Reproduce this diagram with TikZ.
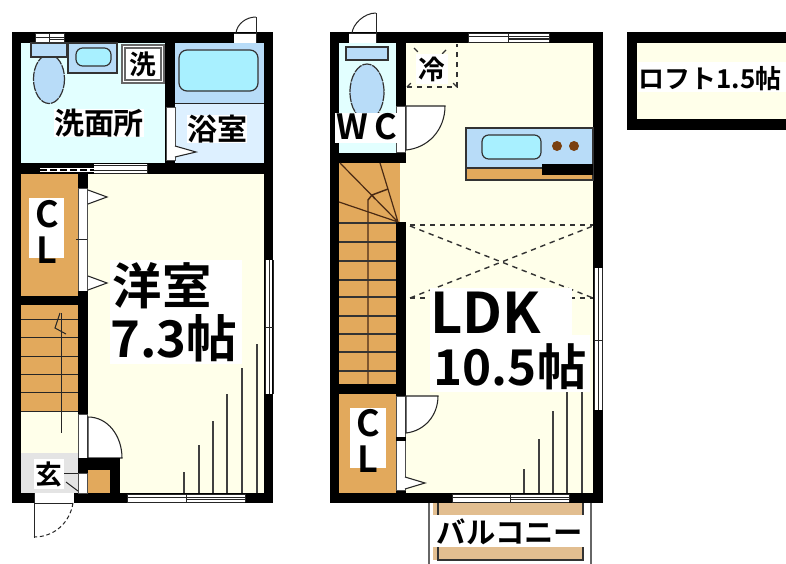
\documentclass[tikz,border=0pt]{standalone}
\usepackage{fontspec}
\newfontfamily\cjk{Noto Sans CJK JP}[BoldFont={Noto Sans CJK JP Bold}]
\definecolor{cream}{HTML}{FFFFEA}
\definecolor{wash}{HTML}{E2FFFF}
\definecolor{bathl}{HTML}{DDF0FF}
\definecolor{fixt}{HTML}{B8DCF8}
\definecolor{water}{HTML}{A8F0FF}
\definecolor{wood}{HTML}{E2A95C}
\definecolor{tan2}{HTML}{E2BE90}
\definecolor{hall}{HTML}{E4E4E4}
\definecolor{stairl}{HTML}{4A2A14}
\definecolor{burner}{HTML}{7A4010}
\tikzset{
  wall/.style={fill=black,draw=none},
  thin line/.style={draw=black!85,line width=0.75pt},
  fixture/.style={draw=black!80,line width=0.9pt},
  swing/.style={fill=white,draw=black!85,line width=0.8pt},
  dash line/.style={draw=black!80,line width=1.05pt,dash pattern=on 4pt off 3.5pt},
  sun/.style={draw=black!75,line width=0.85pt},
  label/.style={font=\cjk\bfseries,fill=white,inner sep=0pt,text=black,anchor=center},
  tag/.style={font=\cjk\bfseries,inner sep=0pt,text=black,anchor=center}
}
\newcommand{\hwin}[4]{% x1 x2 y1 y2
  \fill[white] (#1,#3) rectangle (#2,#4);
  \draw[thin line] (#1,#3) -- (#2,#3) (#1,#4) -- (#2,#4) (#1,{(#3+#4)/2-1}) -- (#2,{(#3+#4)/2-1}) (#1,#3) -- (#1,#4) (#2,#3) -- (#2,#4);
  \draw[thin line] ({(#1+#2)/2},#3) -- ({(#1+#2)/2},#4);
  \draw[draw=black!85,line width=1pt] ({(#1+#2)/2},{(#3+#4)/2+1.5}) -- (#2,{(#3+#4)/2+1.5});
}
\newcommand{\slit}[4]{\draw[fill=white,draw=black!70,line width=0.6pt] (#1,#2) rectangle (#3,#4);}
\begin{document}
\begin{tikzpicture}[x=0.75pt,y=-0.75pt]
\useasboundingbox (0,0) rectangle (786,564);
\fill[white] (0,0) rectangle (786,564);

%% ---------- LEFT UNIT ----------
\fill[wall] (12,32) rectangle (273,503);
\fill[wash] (21,43) rectangle (165,163);
\fill[fixt] (175,43) rectangle (264,103);
\fill[bathl] (175,103) rectangle (264,163);
\draw[thin line] (175,103.5) -- (264,103.5);
\fill[cream] (88,174) rectangle (264,493);
\fill[wood] (21,174) rectangle (78,296);
\fill[wood] (21,305) rectangle (78,411);
\fill[cream] (21,411) rectangle (78,453);
\fill[hall] (21,453) rectangle (78,493);
\fill[cream] (78,414) rectangle (88,458);
% fixtures washroom
\hwin{35}{64}{33}{43}
\draw[fixture,fill=fixt,dash pattern=on 7pt off 0.7pt] (49,79) ellipse (15.5 and 24.5);
\draw[fixture,fill=fixt] (31,43) rectangle (67,57);
\draw[fixture,fill=fixt] (68,43) rectangle (117,73);
\draw[fixture,fill=water,rounded corners=5pt] (76,48) rectangle (111,66);
\draw[draw=black!60,fill=white,line width=0.9pt] (122,45) rectangle (164,83);
\draw[draw=black!60,line width=0.9pt] (125,48) rectangle (161,80);
\node[label,font=\cjk\bfseries\fontsize{20}{20}\selectfont] (senn) at (143,64) {洗};
\draw[fixture,fill=water,rounded corners=6pt] (179,50) rectangle (258,91);
% walls inside bath
\fill[wall] (165,43) rectangle (175,107);
\slit{166}{107}{175}{160}
\draw[swing] (175,146) -- (196,152) -- (175,157);
% sliding door to washroom
\fill[white] (40,168) rectangle (94,172);
\draw[draw=black,line width=1.5pt,dash pattern=on 5pt off 2.5pt] (40,170) -- (94,170);
\fill[white] (94,164) rectangle (147,174);
\draw[thin line] (94,165) -- (147,165) (94,173.5) -- (147,173.5) (147,164) -- (147,174);
\draw[thin line] (94,170) -- (147,170);
% closet and door panels
\fill[wall] (78,174) rectangle (88,188);
\slit{78}{188}{87}{291}
\draw[thin line] (76,239) -- (87,239);
\fill[wall] (12,296) rectangle (88,305);
\fill[wall] (78,291) rectangle (88,414);
\draw[swing] (88,190) -- (107,197) -- (88,204);
\draw[swing] (88,276) -- (107,283) -- (88,290);
% stairs
\foreach \y in {319,337,356,374,392,411}
  \draw[thin line] (21,\y) -- (78,\y);
\draw[thin line] (61,313) -- (61,433);
\draw[thin line] (60,313) -- (55,328) -- (66,334);
% entry door + block
\slit{78}{414}{87}{458}
\draw[swing] (88,417) .. controls (108,417) and (122,436) .. (122,458) -- (88,458) -- cycle;
\fill[wall] (78,458) rectangle (120,503);
\fill[wood] (88,470) rectangle (110,493);
\slit{78}{473}{87}{493}
\draw[thin line] (64,473) -- (78,473);
\draw[thin line] (66,482) -- (78,491);
\fill[white] (34,459) rectangle (64,489);
\node[tag,font=\cjk\bfseries\fontsize{20}{20}\selectfont] (gen) at (49,474) {玄};
% entry opening
\fill[white] (34,493) rectangle (78,503);
\draw[thin line] (34,503) -- (73,503) (34,493) -- (34,538);
\draw[thin line,densely dashed] (73,503) .. controls (70,522) and (55,537) .. (34,537);
\fill[wall] (74,493) rectangle (78,503);
% top door of bath
\fill[white] (234,33) rectangle (256,43);
\draw[thin line] (256,17) -- (256,43) (234,33) -- (256,33);
\draw[thin line] (236,33) .. controls (237,24) and (246,17) .. (256,17);
% windows in outer wall
\fill[white] (265,260) rectangle (272,394);
\draw[thin line] (265,260) -- (265,394) (269,260) -- (269,394) (273,260) -- (273,394);
\draw[thin line] (265,327) -- (273,327);
\fill[wall] (264,394) rectangle (273,503);
\fill[wall] (245,493) rectangle (273,503);
\foreach \x/\t in {184/472,199/445,213/421,227/394,242/368,257/344}
  \draw[sun] (\x,\t) -- (\x,493);
\hwin{127}{245}{494}{502}

%% ---------- RIGHT UNIT ----------
\fill[wall] (330,32) rectangle (603,503);
\fill[cream] (406,43) rectangle (593,493);
\fill[cream] (396,163) rectangle (406,222);
\fill[wash] (339,43) rectangle (396,153);
\fill[wood] (339,163) rectangle (400,222);
\fill[wood] (339,222) rectangle (396,384);
\fill[wood] (339,394) rectangle (396,493);
\fill[wall] (396,222) rectangle (406,395);
% WC door top
\fill[white] (349,33) rectangle (376,43);
\draw[thin line] (376,13) -- (376,43) (349,33) -- (376,33);
\draw[thin line] (352,33) .. controls (353,24) and (364,13) .. (376,13);
% toilet
\draw[fixture,fill=fixt,dash pattern=on 7pt off 0.7pt] (367,92) ellipse (17 and 28);
\draw[fixture,fill=fixt] (346,47) rectangle (388,60);
% WC door
\slit{396}{106}{405}{152}
\draw[swing] (406,106) -- (445,106) .. controls (445,130) and (428,148) .. (406,150) -- cycle;
% fridge
\draw[dash line] (407,87) -- (457,87) -- (457,44);
\draw[dash line] (407,87) -- (413,81) (457,87) -- (451,81) (414,48) -- (420,54) (446,50) -- (440,56);
\fill[white] (416,54) rectangle (448,84);
\node[tag,font=\cjk\bfseries\fontsize{20}{20}\selectfont] (rei) at (432,69) {冷};
% window top
\hwin{468}{549}{33}{42}
% kitchen
\draw[fixture,fill=fixt] (466,128) rectangle (593,168);
\draw[fixture,fill=wood] (466,168) rectangle (593,180);
\fill[wall] (542,164) rectangle (593,175);
\draw[fixture,fill=water,rounded corners=5pt] (482,135) rectangle (541,159);
\fill[burner] (557,146) circle (5);
\fill[burner] (574,146) circle (5);
% stairs winder
\draw[stairl,line width=0.9pt] (340,163) -- (398,222) (380,163) -- (398,222) (339,202) -- (398,222);
\draw[stairl,line width=1.1pt] (368,384) -- (368,200) -- (372,195) -- (388,189) (372,195) -- (375,199);
\foreach \y in {223,242,261,280,297,316,334,352,371}
  \draw[black!80,line width=0.9pt] (339,\y) -- (396,\y);
% void
\draw[dash line] (410,225) -- (593,225);
\draw[dash line] (410,298) -- (593,298);
\draw[dash line] (410,226) -- (593,298);
\draw[dash line] (410,298) -- (593,226);
% closet doors
\slit{396}{396}{405}{490}
\fill[wall] (396,437) rectangle (406,441);
\draw[swing] (406,396) -- (438,396) .. controls (438,416) and (424,431) .. (406,433) -- cycle;
\draw[swing] (405,477) -- (425,483) -- (405,489);
% right window
\fill[white] (594,268) rectangle (602,410);
\draw[thin line] (594,268) -- (594,410) (598,268) -- (598,410) (602,268) -- (602,410);
\draw[thin line] (594,340) -- (602,340);
% sun rays
\foreach \x/\t in {524/469,539/439,553/411,567/392,582/352}
  \draw[sun] (\x,\t) -- (\x,493);
% bottom window
\hwin{452}{569}{494}{502}
% balcony
\draw[draw=black!60,line width=1.2pt] (429,503) -- (429,564) (591,503) -- (591,564);
\fill[tan2] (433,503) rectangle (584,515);
\fill[tan2] (433,547) rectangle (584,560);
\draw[black!80,line width=0.8pt] (438,503) -- (438,515) (583,503) -- (583,515);
\draw[black!80,line width=0.8pt] (438,547) -- (438,560) -- (583,560) -- (583,547);

%% ---------- LOFT ----------
\fill[wall] (627,32) rectangle (786,130);
\fill[cream] (637,43) rectangle (786,119);

%% ---------- LABELS ----------
\node[label,font=\cjk\bfseries\fontsize{22.5}{22.5}\selectfont] (sen) at (99,123) {洗面所};
\node[label,font=\cjk\bfseries\fontsize{22.5}{22.5}\selectfont] (yoku) at (217,129) {浴室};
\fill[white] (29,198) rectangle (64,258);
\node[tag,font=\cjk\bfseries\fontsize{27}{27}\selectfont] (c1) at (47,214) {C};
\node[tag,font=\cjk\bfseries\fontsize{27}{27}\selectfont] (l1) at (47,250) {L};
\fill[white] (110,260) rectangle (242,364);
\node[tag,font=\cjk\bfseries\fontsize{37}{37}\selectfont] (yo) at (162,286) {洋室};
\node[tag,font=\cjk\bfseries\fontsize{38}{38}\selectfont] (sq1) at (174,338) {7.3帖};
\fill[white] (335,113) rectangle (397,143);
\node[tag,font=\cjk\bfseries\fontsize{26}{26}\selectfont] (wc) at (367,127) {W\,C};
\fill[white] (430,288) rectangle (572,335);
\fill[white] (430,335) rectangle (590,392);
\node[tag,font=\cjk\bfseries\fontsize{42}{42}\selectfont] (ldk) at (486,313) {LDK};
\node[tag,font=\cjk\bfseries\fontsize{37}{37}\selectfont] (sq2) at (510,367) {10.5帖};
\fill[white] (350,408) rectangle (386,468);
\node[tag,font=\cjk\bfseries\fontsize{27}{27}\selectfont] (c2) at (368,423) {C};
\node[tag,font=\cjk\bfseries\fontsize{27}{27}\selectfont] (l2) at (368,459) {L};
\node[tag,font=\cjk\bfseries\fontsize{22}{22}\selectfont] (bal) at (510,532) {バルコニー};
\fill[white] (638,62) rectangle (786,92);
\node[tag,font=\cjk\bfseries\fontsize{19.5}{19.5}\selectfont,anchor=west] (loft) at (638,79) {ロフト1.5帖};
\end{tikzpicture}
\end{document}
